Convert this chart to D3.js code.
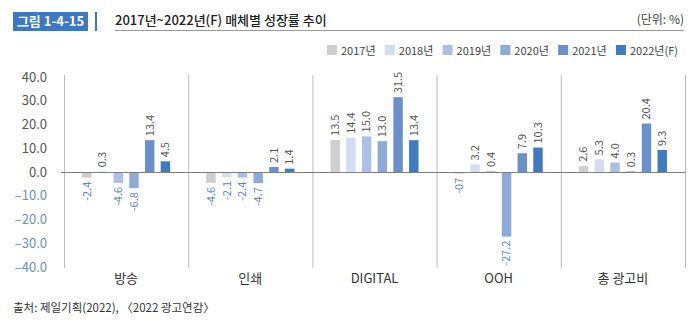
<!DOCTYPE html>
<html><head><meta charset="utf-8">
<script src="https://cdn.jsdelivr.net/npm/d3@7"></script>
<style>
html,body{margin:0;padding:0;background:#fff;}
svg{display:block;font-family:"Noto Sans CJK KR","Noto Sans",sans-serif;}
</style></head>
<body><svg id="c" width="700" height="323"></svg>
<script>
const categories = ["방송", "인쇄", "DIGITAL", "OOH", "총 광고비"];
const years = ["2017년", "2018년", "2019년", "2020년", "2021년", "2022년(F)"];
const v2017 = [-2.4, -4.6, 13.5, -0.7, 2.6];
const v2018 = [0.3, -2.1, 14.4, 3.2, 5.3];
const v2019 = [-4.6, -2.4, 15.0, 0.4, 4.0];
const v2020 = [-6.8, -4.7, 13.0, -27.2, 0.3];
const v2021 = [13.4, 2.1, 31.5, 7.9, 20.4];
const v2022 = [4.5, 1.4, 13.4, 10.3, 9.3];
const yTicks = [40, 30, 20, 10, 0, -10, -20, -30, -40];
const labelOverrides = {"OOH|2017년": "-07"};
const colors = ["#cfcfcf", "#d4ddf0", "#adc0e3", "#8eaad9", "#6a8fcb", "#3e7bc3"];

const series = [v2017, v2018, v2019, v2020, v2021, v2022];
const svg = d3.select("#c");
const f1 = d3.format(".1f");
const fmtVal = v => (v < 0 ? "-" : "") + f1(Math.abs(v));

// header
svg.append("rect").attr("x", 13).attr("y", 12).attr("width", 75).attr("height", 19).attr("fill", "#3e78c2");
svg.append("text").attr("x", 50.5).attr("y", 26).attr("text-anchor", "middle").attr("fill", "#fff")
  .attr("font-size", 13).attr("font-weight", 700).text("그림 1-4-15");
svg.append("rect").attr("x", 95).attr("y", 12).attr("width", 2).attr("height", 19).attr("fill", "#3e78c2");
svg.append("text").attr("x", 115).attr("y", 25).attr("fill", "#222").attr("font-size", 13)
  .attr("font-weight", 500).text("2017년~2022년(F) 매체별 성장률 추이");
svg.append("line").attr("x1", 115).attr("x2", 684).attr("y1", 30.5).attr("y2", 30.5).attr("stroke", "#9a9a9a");
svg.append("text").attr("x", 684).attr("y", 24).attr("text-anchor", "end").attr("fill", "#444")
  .attr("font-size", 12).text("(단위: %)");

// scales
const x0 = d3.scaleBand().domain(categories).range([64, 685]).padding(0);
const x1 = d3.scaleBand().domain(years).range([0, x0.bandwidth()]).paddingInner(0.4).paddingOuter(1.15);
const y = d3.scaleLinear().domain([-40, 40]).range([267, 77]);
const color = d3.scaleOrdinal().domain(years).range(colors);

// y axis labels
const yAxis = d3.axisLeft(y).tickValues(yTicks).tickSize(0).tickPadding(0)
  .tickFormat(d => d < 0 ? "–" + f1(-d) : f1(d));
const ya = svg.append("g").attr("transform", "translate(47,0)").call(yAxis);
ya.select(".domain").remove();
ya.selectAll("text").attr("font-size", 13).attr("font-family", "'Noto Sans CJK KR','Noto Sans',sans-serif")
  .attr("fill", d => d < 0 ? "#6d8fca" : "#555");

// group dividers
const bounds = categories.map(c => x0(c)).concat([x0.range()[1]]);
svg.append("g").selectAll("line").data(bounds).join("line")
  .attr("x1", d => d + 0.5).attr("x2", d => d + 0.5).attr("y1", 75).attr("y2", 268)
  .attr("stroke", "#bdbdbd");

// bars
const data = [];
categories.forEach((c, i) => years.forEach((yr, j) => data.push({c, yr, v: series[j][i]})));
const g = svg.append("g");
g.selectAll("rect").data(data).join("rect")
  .attr("x", d => x0(d.c) + x1(d.yr))
  .attr("width", x1.bandwidth())
  .attr("y", d => y(Math.max(0, d.v)))
  .attr("height", d => Math.abs(y(d.v) - y(0)))
  .attr("fill", d => color(d.yr));

// zero line
svg.append("line").attr("x1", 61).attr("x2", 685).attr("y1", y(0) + 0.5).attr("y2", y(0) + 0.5)
  .attr("stroke", "#808080");

// value labels
g.selectAll("text.val").data(data).join("text").attr("class", "val")
  .attr("transform", d => {
    const cx = x0(d.c) + x1(d.yr) + x1.bandwidth() / 2;
    const yy = d.v >= 0 ? y(d.v) - 4 : y(d.v) + 4;
    return `translate(${cx},${yy}) rotate(-90)`;
  })
  .attr("dy", "0.35em")
  .attr("text-anchor", d => d.v >= 0 ? "start" : "end")
  .attr("font-size", 11)
  .attr("fill", d => d.v >= 0 ? "#555" : "#5b86c6")
  .text(d => labelOverrides[d.c + "|" + d.yr] || fmtVal(d.v));

// category labels
svg.append("g").selectAll("text").data(categories).join("text")
  .attr("x", d => x0(d) + x0.bandwidth() / 2).attr("y", 283)
  .attr("text-anchor", "middle").attr("font-size", 13).attr("fill", "#333").text(d => d);

// legend (fit between x=327 and x=678)
const lg = svg.append("g");
const items = years.map(yr => {
  const it = lg.append("g");
  it.append("rect").attr("y", 45).attr("width", 10).attr("height", 10).attr("fill", color(yr));
  const t = it.append("text").attr("x", 14).attr("y", 54.5).attr("font-size", 11).attr("fill", "#444").text(yr);
  return {it, w: 14 + t.node().getComputedTextLength()};
});
const totalW = d3.sum(items, d => d.w);
const gap = (678 - 327 - totalW) / (items.length - 1);
let lx = 327;
items.forEach(d => { d.it.attr("transform", `translate(${lx},0)`); lx += d.w + gap; });

// source
svg.append("text").attr("x", 13).attr("y", 312).attr("font-size", 11.5).attr("fill", "#333")
  .text("출처: 제일기획(2022), 〈2022 광고연감〉");
</script></body></html>
